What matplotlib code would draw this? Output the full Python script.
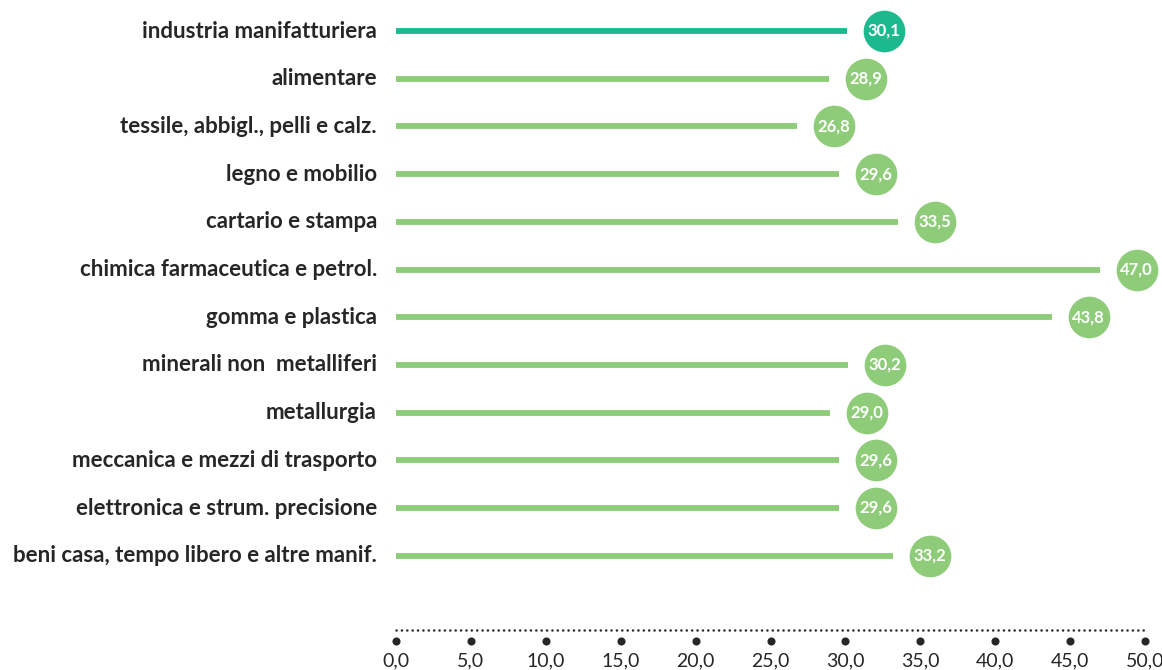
import matplotlib
matplotlib.use("Agg")
import matplotlib.pyplot as plt

categories = [
    "industria manifatturiera",
    "alimentare",
    "tessile, abbigl., pelli e calz.",
    "legno e mobilio",
    "cartario e stampa",
    "chimica farmaceutica e petrol.",
    "gomma e plastica",
    "minerali non  metalliferi",
    "metallurgia",
    "meccanica e mezzi di trasporto",
    "elettronica e strum. precisione",
    "beni casa, tempo libero e altre manif.",
]
values = [30.1, 28.9, 26.8, 29.6, 33.5, 47.0, 43.8, 30.2, 29.0, 29.6, 29.6, 33.2]
xticks = [0, 5, 10, 15, 20, 25, 30, 35, 40, 45, 50]

TEAL = "#1cb98f"
GREEN = "#8ecc79"
TXT = "#262626"

plt.rcParams['font.family'] = ['Lato', 'DejaVu Sans']

W, H = 1162, 670
fig = plt.figure(figsize=(W / 100, H / 100), dpi=100)
x0, x1 = 396, 1145
ax = fig.add_axes([x0 / W, 0, (x1 - x0) / W, 1])
ax.set_xlim(0, 50)
row0, step = 31, 47.7
ax.set_ylim((H - row0) / step, -row0 / step)
ax.axis("off")

offset = 2.45  # circle beyond bar end, in data units
for i, (c, v) in enumerate(zip(categories, values)):
    col = TEAL if i == 0 else GREEN
    ax.plot([0, v], [i, i], color=col, lw=4.2, solid_capstyle="butt", zorder=2)
    ax.scatter([v + offset], [i], s=30 ** 2, color=col, zorder=3, clip_on=False, linewidths=0)
    ax.text(v + offset, i, f"{v:.1f}".replace(".", ","), ha="center", va="center",
            color="white", fontsize=12, fontweight="bold", zorder=4)
    ax.text(-1.27, i, c, ha="right", va="center", color=TXT, fontsize=16,
            fontweight="bold", clip_on=False)

y_line = (630 - row0) / step
y_dots = (641 - row0) / step
y_lab = (661 - row0) / step
ax.plot([0, 49.9], [y_line, y_line], color=TXT, lw=1.8, linestyle=(0, (0.05, 2.1)),
        dash_capstyle="round", clip_on=False)
ax.scatter(xticks, [y_dots] * len(xticks), s=34, color=TXT, zorder=3, clip_on=False, linewidths=0)
for t in xticks:
    ax.text(t, y_lab, f"{t:.1f}".replace(".", ","), ha="center", va="center",
            color=TXT, fontsize=14, clip_on=False)

fig.savefig("out.png", dpi=100)
